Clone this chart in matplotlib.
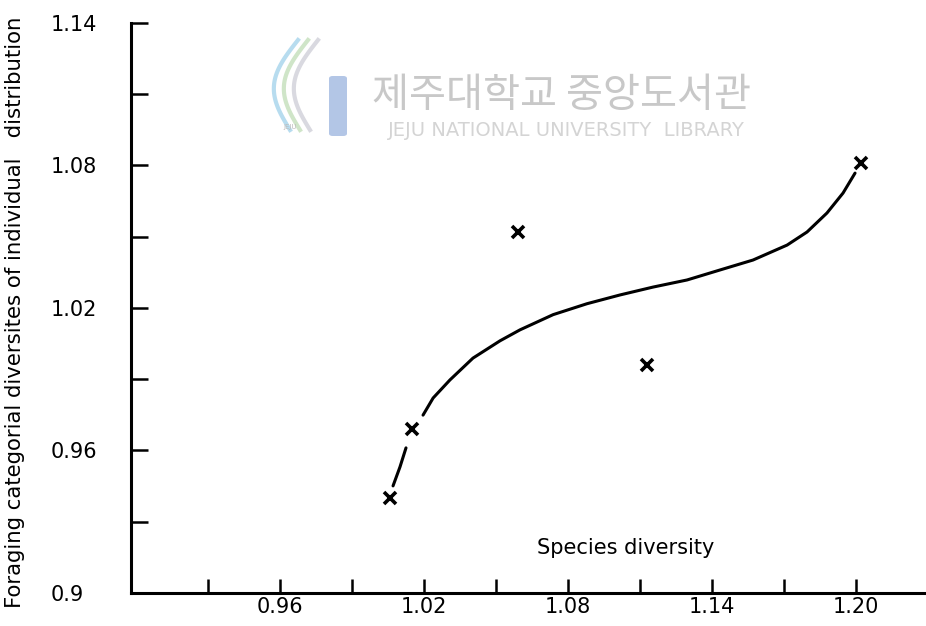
import matplotlib.pyplot as plt
import numpy as np
from matplotlib.ticker import FixedLocator
from matplotlib.patches import FancyBboxPatch

# points (x)
species_div = [1.006, 1.015, 1.059, 1.113, 1.202]
foraging_div = [0.940, 0.969, 1.052, 0.996, 1.081]

# hand-drawn curve, two pieces (gap around the second point)
curve1_x = [1.0071, 1.0100, 1.0125]
curve1_y = [0.9451, 0.9531, 0.9611]
curve2_x = [1.0196, 1.0238, 1.0308, 1.0404, 1.0517, 1.0600, 1.0738, 1.0879,
            1.1017, 1.1154, 1.1296, 1.1433, 1.1571, 1.1713, 1.1796, 1.1879,
            1.1946, 1.1996]
curve2_y = [0.9749, 0.9821, 0.9897, 0.9989, 1.0062, 1.0108, 1.0172, 1.0218,
            1.0255, 1.0288, 1.0318, 1.0360, 1.0402, 1.0465, 1.0520, 1.0600,
            1.0684, 1.0768]

x_major = [0.96, 1.02, 1.08, 1.14, 1.20]
x_minor = [0.93, 0.99, 1.05, 1.11, 1.17]
x_labels = ["0.96", "1.02", "1.08", "1.14", "1.20"]
y_major = [0.90, 0.96, 1.02, 1.08, 1.14]
y_minor = [0.93, 0.99, 1.05, 1.11]
y_labels = ["0.9", "0.96", "1.02", "1.08", "1.14"]

W, H = 926, 626
fig = plt.figure(figsize=(W / 100, H / 100), dpi=100)
ax = fig.add_axes([131 / W, 33 / H, (W - 131) / W, 570 / H])

ax.plot(curve1_x, curve1_y, color="black", lw=2.2, solid_capstyle="round")
ax.plot(curve2_x, curve2_y, color="black", lw=2.2, solid_capstyle="round",
        solid_joinstyle="round")
ax.plot(species_div, foraging_div, linestyle="none", marker="x",
        color="black", markersize=8.5, markeredgewidth=2.6)

x0 = 0.9 - 5 / 2400
ax.set_xlim(x0, x0 + (W - 131) / 2400)
ax.set_ylim(0.9, 1.14)

for s in ["top", "right"]:
    ax.spines[s].set_visible(False)
for s in ["left", "bottom"]:
    ax.spines[s].set_linewidth(2.2)

ax.xaxis.set_major_locator(FixedLocator(x_major))
ax.xaxis.set_minor_locator(FixedLocator(x_minor))
ax.yaxis.set_major_locator(FixedLocator(y_major))
ax.yaxis.set_minor_locator(FixedLocator(y_minor))
ax.set_xticklabels(x_labels)
ax.set_yticklabels(y_labels)

ax.tick_params(axis="both", which="both", direction="in", width=1.8,
               labelsize=15)
ax.tick_params(axis="y", which="both", length=12, pad=58)
ax.tick_params(axis="x", which="both", length=10, pad=3)
for lab in ax.get_yticklabels():
    lab.set_horizontalalignment("left")

ax.text(1.104, 0.919, "Species diversity", fontsize=15, ha="center",
        va="center")
fig.text(15 / W, 1 - 312 / H,
         "Foraging categorial diversites of individual   distribution",
         rotation=90, fontsize=15.3, ha="center", va="center")

# library watermark
fig.text(562 / W, 1 - 95 / H, "제주대학교 중앙도서관",
         family=["Noto Sans CJK KR", "DejaVu Sans"], fontsize=29,
         color="#c8c8c8", ha="center", va="center")
fig.text(566 / W, 1 - 131 / H, "JEJU NATIONAL UNIVERSITY  LIBRARY",
         fontsize=14, color="#d4d4d4", ha="center", va="center")
fig.patches.append(FancyBboxPatch((329 / W, 1 - 136 / H), 18 / W, 60 / H,
                                  boxstyle="round,pad=0,rounding_size=0.004",
                                  transform=fig.transFigure,
                                  facecolor="#b3c6e6", edgecolor="none"))
t = np.linspace(0, 1, 50)
for dx, col in [(0, "#b7dcef"), (10, "#cfe5c8"), (20, "#d9d9e0")]:
    xs = (290 + dx - 20 * np.sin(np.pi * t) + 8 * t) / W
    ys = 1 - (130 - 90 * t) / H
    fig.add_artist(plt.Line2D(xs, ys, color=col, lw=3,
                              transform=fig.transFigure))
fig.text(290 / W, 1 - 127 / H, "JEJU", fontsize=5, color="#bbbbbb",
         ha="center", va="center")

fig.savefig("out.png", dpi=100)
